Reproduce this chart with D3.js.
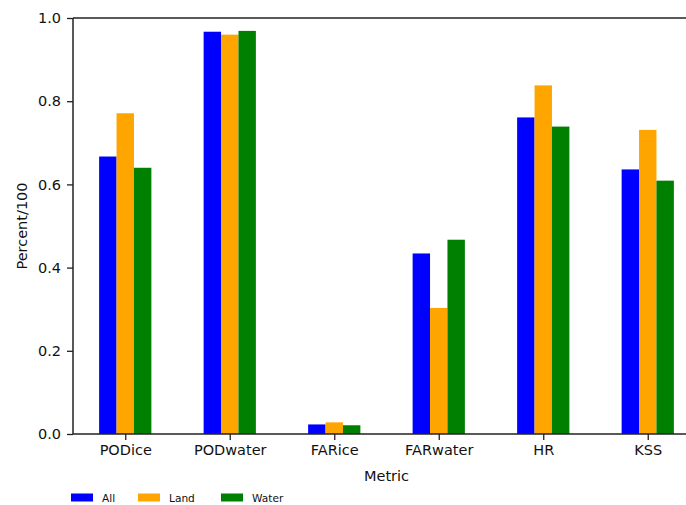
<!DOCTYPE html>
<html>
<head>
<meta charset="utf-8">
<script src="https://cdn.jsdelivr.net/npm/d3@7"></script>
<style>
  body { margin: 0; background: #fff; }
  svg { display: block; font-family: "DejaVu Sans", sans-serif; }
</style>
</head>
<body>
<svg id="chart" width="686" height="505"></svg>
<script>
// values
var metrics = ["PODice", "PODwater", "FARice", "FARwater", "HR", "KSS"];
var seriesNames = ["All", "Land", "Water"];
var seriesColors = ["#0000ff", "#ffa500", "#008000"];
var allVals = [0.667, 0.967, 0.023, 0.434, 0.761, 0.636];
var landVals = [0.771, 0.960, 0.028, 0.303, 0.838, 0.731];
var waterVals = [0.640, 0.969, 0.021, 0.467, 0.739, 0.609];
var yTicks = [0.0, 0.2, 0.4, 0.6, 0.8, 1.0];

var series = [allVals, landVals, waterVals];

var svg = d3.select("#chart");
// plot box (right edge falls outside the picture, as in the original)
var plotLeft = 73, plotRight = 700, plotTop = 18, plotBottom = 434;

// pandas style: categories at 0..n-1, xlim -0.5..n-0.5, bar width 0.5 / 3 series
var x = d3.scaleLinear().domain([-0.5, metrics.length - 0.5]).range([plotLeft, plotRight]);
var y = d3.scaleLinear().domain([0, 1]).range([plotBottom, plotTop]);
var barW = 0.5 / series.length;

var g = svg.append("g");

series.forEach(function (vals, s) {
    g.selectAll(null)
        .data(vals)
        .enter().append("rect")
        .attr("x", function (d, i) { return x(i - 0.25 + s * barW); })
        .attr("width", x(barW) - x(0))
        .attr("y", function (d) { return y(d); })
        .attr("height", function (d) { return y(0) - y(d); })
        .attr("fill", seriesColors[s]);
});

// axes
var xAxis = d3.axisBottom(x)
    .tickValues(d3.range(metrics.length))
    .tickFormat(function (d) { return metrics[d]; })
    .tickSize(6).tickPadding(5);
var yAxis = d3.axisLeft(y)
    .tickValues(yTicks)
    .tickFormat(d3.format(".1f"))
    .tickSize(6).tickPadding(6);

var gx = svg.append("g").attr("transform", "translate(0," + plotBottom + ")").call(xAxis);
var gy = svg.append("g").attr("transform", "translate(" + plotLeft + ",0)").call(yAxis);

[gx, gy].forEach(function (a) {
    a.selectAll("text").attr("font-size", 14.5).attr("fill", "#111")
        .attr("font-family", "DejaVu Sans, sans-serif");
    a.selectAll("line").attr("stroke", "#222").attr("stroke-width", 1.3);
    a.select(".domain").remove();
});

// spines
svg.append("line").attr("x1", plotLeft).attr("x2", plotRight).attr("y1", plotBottom).attr("y2", plotBottom)
    .attr("stroke", "#222").attr("stroke-width", 1.5);
svg.append("line").attr("x1", plotLeft).attr("x2", plotRight).attr("y1", plotTop).attr("y2", plotTop)
    .attr("stroke", "#222").attr("stroke-width", 1.5);
svg.append("line").attr("x1", plotLeft).attr("x2", plotLeft).attr("y1", plotTop).attr("y2", plotBottom)
    .attr("stroke", "#222").attr("stroke-width", 1.5);

// axis labels
svg.append("text")
    .attr("x", (plotLeft + plotRight) / 2).attr("y", 481)
    .attr("text-anchor", "middle").attr("font-size", 14.5).attr("fill", "#111")
    .text("Metric");
svg.append("text")
    .attr("transform", "translate(27," + (plotTop + plotBottom) / 2 + ") rotate(-90)")
    .attr("text-anchor", "middle").attr("font-size", 14.5).attr("fill", "#111")
    .text("Percent/100");

// legend below the plot
var legendX = [71, 138, 221];
var leg = svg.append("g");
seriesNames.forEach(function (name, s) {
    leg.append("rect")
        .attr("x", legendX[s]).attr("y", 493.5)
        .attr("width", 22).attr("height", 8)
        .attr("fill", seriesColors[s]);
    leg.append("text")
        .attr("x", legendX[s] + 31).attr("y", 501.5)
        .attr("font-size", 10.6).attr("fill", "#111")
        .text(name);
});
</script>
</body>
</html>
